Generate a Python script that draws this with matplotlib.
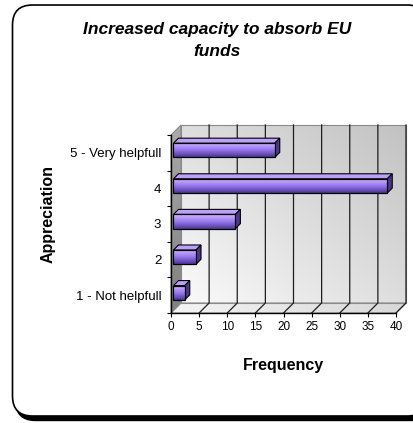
import numpy as np
import matplotlib.pyplot as plt
from matplotlib.patches import FancyBboxPatch, Polygon
from matplotlib.colors import LinearSegmentedColormap
from matplotlib.transforms import offset_copy, IdentityTransform

plt.rcParams['font.family'] = ['Liberation Sans', 'DejaVu Sans']

categories = ['1 - Not helpfull', '2', '3', '4', '5 - Very helpfull']
frequency = [2, 4, 11, 38, 18]
freq_ticks = [0, 5, 10, 15, 20, 25, 30, 35, 40]

W, H = 414, 423
DEPTH = 10        # px, offset of the back wall (right and up)
BAR_FRONT = 2.5   # px, bar front face in front of the floor
BAR_DEPTH = 5     # px, bar thickness
BAR_H = 0.4

fig = plt.figure(figsize=(W / 100, H / 100), dpi=100)

# pixel canvas for the frame and the 3D walls
bg = fig.add_axes([0, 0, 1, 1], zorder=0)
bg.set_xlim(0, W)
bg.set_ylim(0, H)
bg.axis('off')

frame_kw = dict(boxstyle='round,pad=0,rounding_size=20')
bg.add_patch(FancyBboxPatch((15.5, 2.5), 415, 411, facecolor='black',
                            edgecolor='black', lw=1, **frame_kw))
bg.add_patch(FancyBboxPatch((12.5, 7), 415, 411, facecolor='white',
                            edgecolor='black', lw=1.2, **frame_kw))

ax = fig.add_axes([171 / W, (H - 313) / H, 225 / W, 178 / H], zorder=1)
ax.set_xlim(0, 40)
ax.set_ylim(-0.5, 4.5)
ax.patch.set_visible(False)


def to_px(x, y, d=0.0):
    X, Y = ax.transData.transform((x, y))
    return (X + d, Y + d)


def shade(pts, cmap, direction, zorder):
    poly = Polygon(pts, closed=True, facecolor='none', edgecolor='none')
    bg.add_patch(poly)
    xs = [p[0] for p in pts]
    ys = [p[1] for p in pts]
    if direction == 'diag':
        u, v = np.meshgrid(np.linspace(0, 1, 64), np.linspace(0, 1, 64))
        g = (u + v) / 2
    elif direction == 'v':
        g = np.linspace(0, 1, 64)[:, None] * np.ones((1, 2))
    else:
        g = np.ones((2, 1)) * np.linspace(0, 1, 64)[None, :]
    im = bg.imshow(g, extent=[min(xs), max(xs), min(ys), max(ys)], origin='lower',
                   cmap=cmap, aspect='auto', interpolation='bilinear', zorder=zorder)
    im.set_clip_path(poly)


y0, y1 = -0.5, 4.5
x1 = freq_ticks[-1]

# back wall, side wall and floor
back = [to_px(0, y0, DEPTH), to_px(x1, y0, DEPTH), to_px(x1, y1, DEPTH), to_px(0, y1, DEPTH)]
side = [to_px(0, y0), to_px(0, y0, DEPTH), to_px(0, y1, DEPTH), to_px(0, y1)]
floor = [to_px(0, y0), to_px(x1, y0), to_px(x1, y0, DEPTH), to_px(0, y0, DEPTH)]
shade(back, LinearSegmentedColormap.from_list('wall', ['#fafafa', '#c2c2c2']), 'diag', 1)
shade(side, LinearSegmentedColormap.from_list('side', ['#808080', '#aaaaaa']), 'v', 1)
shade(floor, LinearSegmentedColormap.from_list('floor', ['#f4f4f4', '#d8d8d8']), 'h', 1)

for pts in (back, side, floor):
    bg.add_patch(Polygon(pts, closed=True, facecolor='none', edgecolor='#8a8a8a',
                         lw=0.8, zorder=2))

# gridlines across the floor and up the back wall
for t in freq_ticks[1:]:
    a, b, c = to_px(t, y0), to_px(t, y0, DEPTH), to_px(t, y1, DEPTH)
    bg.plot([a[0], b[0], c[0]], [a[1], b[1], c[1]], color='#1e1e1e', lw=0.9, zorder=3)

# bars
bar_cmap = LinearSegmentedColormap.from_list('bar', ['#4c3596', '#9a7af0', '#d4b8ff'])
front_tr = offset_copy(ax.transData, fig=fig, x=BAR_FRONT, y=BAR_FRONT, units='dots')
ypos = np.arange(len(categories))
grad = np.linspace(0, 1, 64)[:, None] * np.ones((1, 2))
for yc, val in zip(ypos, frequency):
    top, bot = yc + BAR_H / 2, yc - BAR_H / 2
    # top face and end face
    ftl, ftr = to_px(0, top, BAR_FRONT), to_px(val, top, BAR_FRONT)
    fbr = to_px(val, bot, BAR_FRONT)
    d = BAR_DEPTH
    ax.add_patch(Polygon([ftl, ftr, (ftr[0] + d, ftr[1] + d), (ftl[0] + d, ftl[1] + d)],
                         closed=True, transform=IdentityTransform(), clip_on=False,
                         facecolor='#bea0fa', edgecolor='black', lw=0.8, zorder=3))
    ax.add_patch(Polygon([fbr, ftr, (ftr[0] + d, ftr[1] + d), (fbr[0] + d, fbr[1] + d)],
                         closed=True, transform=IdentityTransform(), clip_on=False,
                         facecolor='#4e3590', edgecolor='black', lw=0.8, zorder=3))
    # front face with a vertical shade
    rect = ax.barh(yc, val, height=BAR_H, transform=front_tr, facecolor='none',
                   edgecolor='black', lw=0.9, zorder=5, clip_on=False)[0]
    im = ax.imshow(grad, extent=[0, val, bot, top], transform=front_tr, origin='lower',
                   cmap=bar_cmap, aspect='auto', interpolation='bilinear', zorder=4)
    im.set_clip_path(rect)

ax.set_xlim(0, 40)
ax.set_ylim(-0.5, 4.5)

ax.set_xticks(freq_ticks)
ax.tick_params(axis='x', direction='out', length=3, width=0.8, labelsize=8.5, pad=3)
ax.set_yticks(ypos)
ax.set_yticklabels(categories)
ax.set_yticks(np.arange(-0.5, 4.6, 1), minor=True)
ax.tick_params(axis='y', which='major', length=0, pad=7, labelsize=9.5)
ax.tick_params(axis='y', which='minor', direction='out', length=3, width=0.8)
for s in ['top', 'right']:
    ax.spines[s].set_visible(False)
ax.spines['left'].set_linewidth(1)
ax.spines['bottom'].set_linewidth(1)

fig.text(48 / W, 1 - 214 / H, 'Appreciation', rotation=90, ha='center', va='center',
         fontsize=11.5, fontweight='bold')
fig.text(283 / W, 1 - 365 / H, 'Frequency', ha='center', va='center',
         fontsize=11.5, fontweight='bold')
title_kw = dict(ha='center', va='baseline', fontsize=12.5, fontweight='bold',
                fontstyle='italic')
fig.text(217 / W, 1 - 34 / H, 'Increased capacity to absorb EU', **title_kw)
fig.text(217 / W, 1 - 56 / H, 'funds', **title_kw)

fig.savefig('out.png', dpi=100)
